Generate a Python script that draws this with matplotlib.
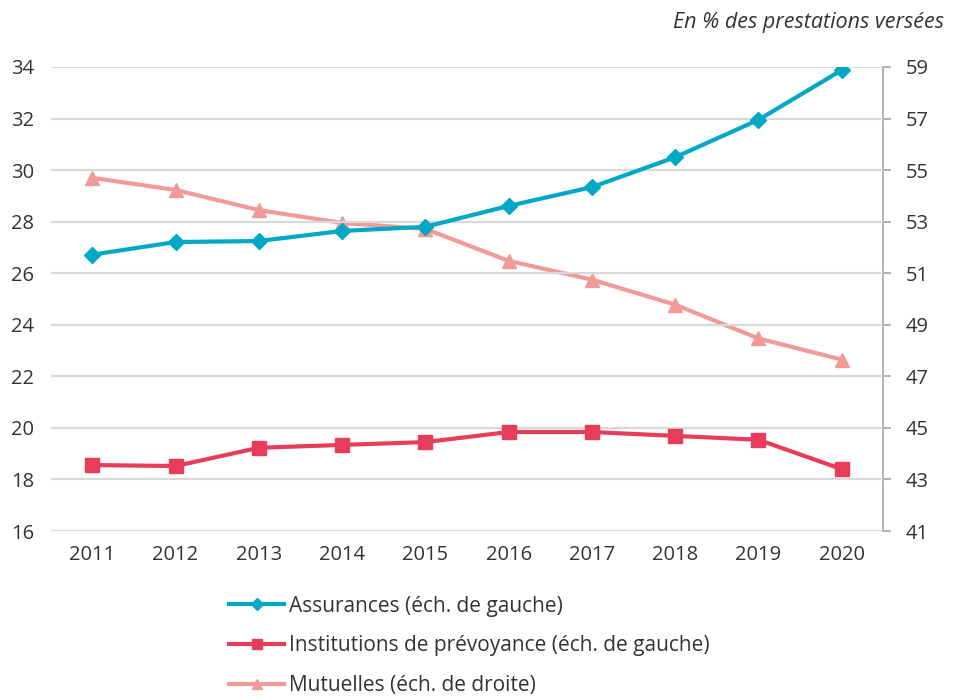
import numpy as np
import matplotlib
matplotlib.use('Agg')
from matplotlib import pyplot as plt

plt.rcParams['font.family'] = ['Open Sans', 'DejaVu Sans']

years = ['2011', '2012', '2013', '2014', '2015', '2016', '2017', '2018', '2019', '2020']
assurances = [26.72, 27.21, 27.25, 27.64, 27.80, 28.61, 29.34, 30.50, 31.95, 33.88]
institutions = [18.56, 18.52, 19.23, 19.34, 19.45, 19.84, 19.84, 19.69, 19.54, 18.40]
mutuelles = [54.70, 54.23, 53.45, 52.95, 52.72, 51.48, 50.75, 49.78, 48.47, 47.65]

left_ticks = list(range(16, 35, 2))
right_ticks = list(range(41, 60, 2))

c_ass = '#00A8C6'
c_inst = '#E83D5A'
c_mut = '#F29A97'
txt = '#333333'
fs = 14.5

fig = plt.figure(figsize=(9.55, 7), dpi=100)
ax = fig.add_axes([0.053, 0.2414, 0.872, 0.6629])
ax2 = ax.twinx()

x = np.arange(len(years))

# grid on the left axis
ax.set_ylim(16, 34)
ax.set_yticks(left_ticks)
ax.yaxis.grid(True, color='#d9d9d9', lw=1.6)
ax.set_axisbelow(True)
ax.set_xlim(-0.5, 9.5)
ax.set_xticks(x)
ax.set_xticklabels(years)

ax2.set_ylim(41, 59)
ax2.set_yticks(right_ticks)

l3, = ax2.plot(x, mutuelles, color=c_mut, lw=3, marker='^', ms=10, zorder=3)
l1, = ax.plot(x, assurances, color=c_ass, lw=3, marker='D', ms=8, zorder=4)
l2, = ax.plot(x, institutions, color=c_inst, lw=3, marker='s', ms=10, zorder=4)
ax.set_zorder(ax2.get_zorder() + 1)
ax.patch.set_visible(False)

for a in (ax, ax2):
    for s in ['top', 'left', 'right', 'bottom']:
        a.spines[s].set_visible(False)
ax2.spines['right'].set_visible(True)
ax2.spines['right'].set_color('#a6a6a6')
ax2.spines['right'].set_linewidth(1.2)

ax.tick_params(axis='y', length=0, labelsize=fs, labelcolor=txt, pad=12)
ax.tick_params(axis='x', length=0, labelsize=fs, labelcolor=txt, pad=10)
ax2.tick_params(axis='y', length=6, color='#a6a6a6', width=1.2, labelsize=fs, labelcolor=txt, pad=10)

fig.text(0.988, 0.968, 'En % des prestations versées', ha='right', va='center',
         fontsize=15.5, style='italic', color=txt)

h1 = plt.Line2D([], [], color=c_ass, lw=3, marker='D', ms=6)
h2 = plt.Line2D([], [], color=c_inst, lw=3, marker='s', ms=7)
h3 = plt.Line2D([], [], color=c_mut, lw=3, marker='^', ms=7)
fig.legend([h1, h2, h3],
           ['Assurances (éch. de gauche)',
            'Institutions de prévoyance (éch. de gauche)',
            'Mutuelles (éch. de droite)'],
           loc='upper left', bbox_to_anchor=(0.24, 0.149), frameon=False,
           fontsize=15, labelcolor=txt, handlelength=2.65, handletextpad=0.2,
           labelspacing=0.9, borderaxespad=0, borderpad=0)

fig.savefig('out.png', dpi=100)
